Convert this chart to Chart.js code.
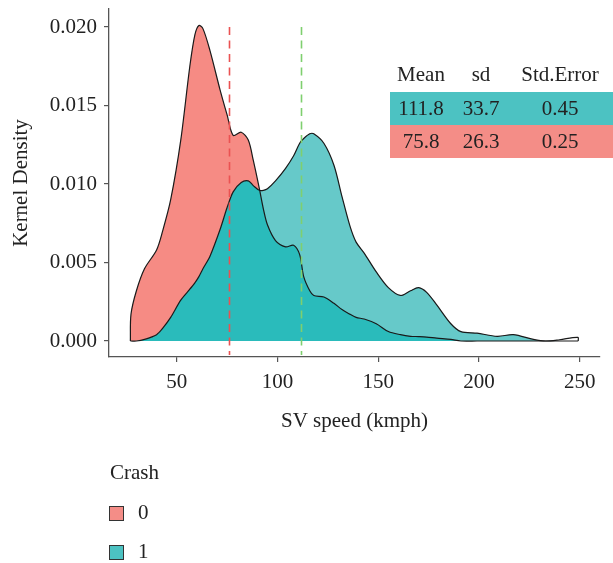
<!DOCTYPE html>
<html><head><meta charset="utf-8">
<script src="https://cdn.jsdelivr.net/npm/chart.js@4.4.1/dist/chart.umd.min.js"></script>
<style>html,body{margin:0;padding:0;background:#fff;}#wrap{width:613px;height:563px;position:relative}</style>
</head><body><div id="wrap"><canvas id="c" width="613" height="563"></canvas></div>
<script>
// ---- data ----
const speedGrid = [27, 27.3, 30, 34, 40, 43, 47, 52, 56.5, 59, 61, 63, 66.5, 71.5, 75, 78, 82, 85.5, 88, 91, 93, 95, 99, 104, 108, 111, 113, 116, 118, 123, 128, 132, 136, 139, 143, 149, 155, 161, 166, 170, 174, 179, 186, 191, 199, 209, 217, 227, 233, 240, 249, 249.2];
const densityCrash0 = [0, 0.0017, 0.0032, 0.0046, 0.0058, 0.0070, 0.0090, 0.0128, 0.0175, 0.0195, 0.0201, 0.0199, 0.0185, 0.0160, 0.0144, 0.0131, 0.0133, 0.0128, 0.0115, 0.0097, 0.0084, 0.0074, 0.0064, 0.0060, 0.0061, 0.0055, 0.0041, 0.0032, 0.0029, 0.0028, 0.0024, 0.0020, 0.0017, 0.0015, 0.0014, 0.0011, 0.0006, 0.0004, 0.0003, 0.00028, 0.00025, 0.00018, 0.0001, 0, 0, 0, 0, 0, 0, 0, 0, 0];
const densityCrash1 = [0, 0, 0, 0.0001, 0.0004, 0.0008, 0.0015, 0.0026, 0.0033, 0.0037, 0.0041, 0.0046, 0.0054, 0.0071, 0.0085, 0.0095, 0.0101, 0.0102, 0.0099, 0.0096, 0.0096, 0.0097, 0.0102, 0.0110, 0.0118, 0.0126, 0.0129, 0.0132, 0.0132, 0.0126, 0.0112, 0.0092, 0.0073, 0.0063, 0.0056, 0.0044, 0.0034, 0.0029, 0.0032, 0.0034, 0.0031, 0.0023, 0.0011, 0.0006, 0.0005, 0.0003, 0.0004, 0.0001, 0, 0.00008, 0.00023, 0];
const tailX = [233, 240, 249, 249.2];
const tailY = [0, 0.00008, 0.00023, 0];
const xTicks = [50, 100, 150, 200, 250];
const yTicks = [0, 0.005, 0.010, 0.015, 0.020];
const tableHeader = ['Mean', 'sd', 'Std.Error'];
const rowCrash1 = ['111.8', '33.7', '0.45'];
const rowCrash0 = ['75.8', '26.3', '0.25'];
const meanCrash0 = 75.8;
const meanCrash1 = 111.8;
const legendTitle = 'Crash';
const legendLabels = ['0', '1'];

// ---- styles ----
const FONT = "'Liberation Serif', 'DejaVu Serif', serif";
const FS = 21;
const PINK = '#f68b84', LTEAL = '#66c9c9', DTEAL = '#2abbbb';
const PINK_BOX = '#f48d87', TEAL_BOX = '#4cc2c2';
const TXT = '#222';

const pts = (xs, ys) => xs.map((x, i) => ({x, y: ys[i]}));

const overlay = {
  id: 'overlay',
  afterDatasetsDraw(chart) {
    const {ctx, scales: {x, y}, chartArea} = chart;
    ctx.save();
    ctx.lineWidth = 1.6;
    ctx.setLineDash([8, 5.5]);
    [[meanCrash0, '#ea5252'], [meanCrash1, '#7fcf6f']].forEach(([m, col]) => {
      const px = Math.round(x.getPixelForValue(m)) + 0.5;
      ctx.strokeStyle = col;
      ctx.beginPath();
      ctx.moveTo(px, y.getPixelForValue(0.020));
      ctx.lineTo(px, chartArea.bottom - 2);
      ctx.stroke();
    });
    ctx.restore();
  },
  afterDraw(chart) {
    const {ctx} = chart;
    ctx.save();
    // table
    const colX = [421, 481, 560];
    ctx.fillStyle = TEAL_BOX; ctx.fillRect(390, 92, 223, 33);
    ctx.fillStyle = PINK_BOX; ctx.fillRect(390, 125, 223, 33);
    ctx.font = FS + 'px ' + FONT;
    ctx.fillStyle = TXT;
    ctx.textAlign = 'center'; ctx.textBaseline = 'middle';
    tableHeader.forEach((t, i) => ctx.fillText(t, colX[i], 75));
    rowCrash1.forEach((t, i) => ctx.fillText(t, colX[i], 109));
    rowCrash0.forEach((t, i) => ctx.fillText(t, colX[i], 142));
    // legend
    ctx.textAlign = 'left';
    ctx.fillText(legendTitle, 110, 473);
    const boxes = [[506, PINK_BOX], [545, TEAL_BOX]];
    boxes.forEach(([by, col], i) => {
      ctx.fillStyle = col; ctx.fillRect(109, by, 15, 15);
      ctx.strokeStyle = '#333'; ctx.lineWidth = 1; ctx.strokeRect(109.5, by + 0.5, 14, 14);
      ctx.fillStyle = TXT; ctx.fillText(legendLabels[i], 138, by + 7.5);
    });
    ctx.restore();
  }
};

new Chart(document.getElementById('c'), {
  type: 'line',
  data: {
    datasets: [
      {label: '0', data: pts(speedGrid, densityCrash0), borderColor: '#1a1a1a', borderWidth: 1.2,
       fill: {target: 1, above: PINK, below: LTEAL}, pointRadius: 0, tension: 0.3},
      {label: '1', data: pts(speedGrid, densityCrash1), borderColor: '#1a1a1a', borderWidth: 1.2,
       fill: {target: 'origin', above: DTEAL, below: DTEAL}, backgroundColor: DTEAL, pointRadius: 0, tension: 0.3},
      {label: 'tail', data: pts(tailX, tailY), borderWidth: 0, borderColor: 'rgba(0,0,0,0)', backgroundColor: '#fff',
       fill: 'origin', pointRadius: 0, tension: 0.3, order: -1}
    ]
  },
  options: {
    responsive: false, animation: false, devicePixelRatio: 1,
    layout: {padding: {top: 9, right: 13, left: 0, bottom: 128}},
    plugins: {legend: {display: false}, tooltip: {enabled: false}, filler: {drawTime: 'beforeDatasetsDraw'}},
    scales: {
      x: {
        type: 'linear', min: 16.4, max: 260,
        afterBuildTicks: s => { s.ticks = xTicks.map(v => ({value: v})); },
        afterFit: s => { s.height = 78; },
        border: {display: true, color: '#555', width: 1.3},
        grid: {display: true, drawOnChartArea: false, drawTicks: true, tickLength: 5, color: '#555', lineWidth: 1.2},
        ticks: {font: {family: FONT, size: FS, lineHeight: 1}, color: TXT, padding: 10, maxRotation: 0},
        title: {display: true, text: 'SV speed (kmph)', font: {family: FONT, size: FS}, color: TXT, padding: {top: 0, bottom: 1}}
      },
      y: {
        min: -0.00102, max: 0.02115,
        afterBuildTicks: s => { s.ticks = yTicks.map(v => ({value: v})); },
        afterFit: s => { s.width = 109; s.paddingTop = 0; s.paddingBottom = 0; },
        border: {display: true, color: '#555', width: 1.3},
        grid: {display: true, drawOnChartArea: false, drawTicks: true, tickLength: 5, color: '#555', lineWidth: 1.2},
        ticks: {font: {family: FONT, size: FS, lineHeight: 0.2}, color: TXT, padding: 7, callback: v => v.toFixed(3)},
        title: {display: true, text: 'Kernel Density', font: {family: FONT, size: FS}, color: TXT, padding: {top: 9, bottom: 0}}
      }
    }
  },
  plugins: [overlay]
});
</script></body></html>
